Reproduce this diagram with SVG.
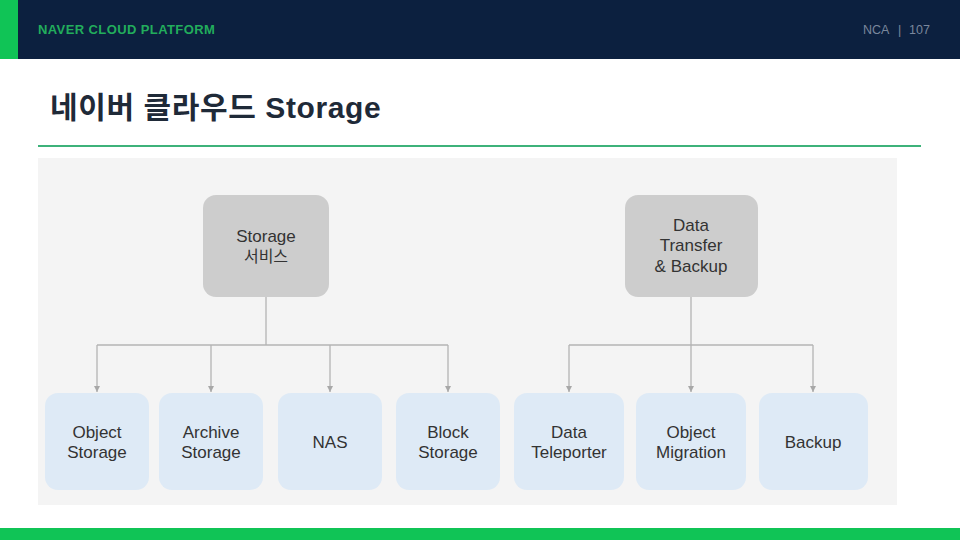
<svg xmlns="http://www.w3.org/2000/svg" width="960" height="540" viewBox="0 0 960 540">
<defs>
<style>
.hdr{font-family:"Liberation Sans","Noto Sans",sans-serif;}
.node text{font-family:"Liberation Sans","Noto Sans CJK KR",sans-serif;font-size:17px;fill:#333;text-anchor:middle;}
.gray{fill:#cdcdcd;}
.blue{fill:#deeaf6;}
.conn{stroke:#b4b4b4;stroke-width:1.3;fill:none;}
</style>
<marker id="ah" viewBox="0 0 8 8" refX="8" refY="4" markerWidth="6" markerHeight="6" markerUnits="userSpaceOnUse" orient="auto">
<path d="M0,0 L8,4 L0,8 Z" fill="#a8a8a8"/>
</marker>
</defs>
<rect x="0" y="0" width="960" height="540" fill="#ffffff"/>
<rect x="0" y="0" width="960" height="59" fill="#0c203f"/>
<rect x="0" y="0" width="18" height="59" fill="#10c456"/>
<text class="hdr" x="38" y="34" font-size="13" font-weight="bold" letter-spacing="0.4" fill="#22ad5c">NAVER CLOUD PLATFORM</text>
<text class="hdr" y="34" font-size="12.5" fill="#7a879c"><tspan x="863">NCA</tspan><tspan x="898">|</tspan><tspan x="909">107</tspan></text>
<text x="50" y="118" font-family="'Liberation Sans','Noto Sans CJK KR',sans-serif" font-size="30" font-weight="bold" letter-spacing="0.6" fill="#1f2a38">네이버 클라우드 Storage</text>
<line x1="38" y1="146" x2="921" y2="146" stroke="#3db27a" stroke-width="2"/>
<rect x="38" y="158" width="859" height="347" fill="#f4f4f4"/>
<rect x="0" y="528" width="960" height="12" fill="#10c456"/>

<g id="connectors">
<path class="conn" d="M266,297 V345 M97,345 H448"/>
<path class="conn" d="M97,345 V392" marker-end="url(#ah)"/>
<path class="conn" d="M211,345 V392" marker-end="url(#ah)"/>
<path class="conn" d="M330,345 V392" marker-end="url(#ah)"/>
<path class="conn" d="M448,345 V392" marker-end="url(#ah)"/>
<path class="conn" d="M691,297 V345 M569,345 H813"/>
<path class="conn" d="M569,345 V392" marker-end="url(#ah)"/>
<path class="conn" d="M691,345 V392" marker-end="url(#ah)"/>
<path class="conn" d="M813,345 V392" marker-end="url(#ah)"/>
</g>

<g id="storage-service" class="node">
<rect class="gray" x="203" y="195" width="126" height="102" rx="13"/>
<text x="266" y="242">Storage<tspan x="266" dy="20" font-size="16">서비스</tspan></text>
</g>
<g id="data-transfer" class="node">
<rect class="gray" x="625" y="195" width="133" height="102" rx="13"/>
<text x="691" y="231">Data<tspan x="691" dy="20">Transfer</tspan><tspan x="691" dy="21">&amp; Backup</tspan></text>
</g>

<g id="object-storage" class="node">
<rect class="blue" x="45" y="393" width="104" height="97" rx="13"/>
<text x="97" y="438">Object<tspan x="97" dy="20">Storage</tspan></text>
</g>
<g id="archive-storage" class="node">
<rect class="blue" x="159" y="393" width="104" height="97" rx="13"/>
<text x="211" y="438">Archive<tspan x="211" dy="20">Storage</tspan></text>
</g>
<g id="nas" class="node">
<rect class="blue" x="278" y="393" width="104" height="97" rx="13"/>
<text x="330" y="448">NAS</text>
</g>
<g id="block-storage" class="node">
<rect class="blue" x="396" y="393" width="104" height="97" rx="13"/>
<text x="448" y="438">Block<tspan x="448" dy="20">Storage</tspan></text>
</g>
<g id="data-teleporter" class="node">
<rect class="blue" x="514" y="393" width="110" height="97" rx="13"/>
<text x="569" y="438">Data<tspan x="569" dy="20">Teleporter</tspan></text>
</g>
<g id="object-migration" class="node">
<rect class="blue" x="636" y="393" width="110" height="97" rx="13"/>
<text x="691" y="438">Object<tspan x="691" dy="20">Migration</tspan></text>
</g>
<g id="backup" class="node">
<rect class="blue" x="759" y="393" width="109" height="97" rx="13"/>
<text x="813" y="448">Backup</text>
</g>
</svg>
